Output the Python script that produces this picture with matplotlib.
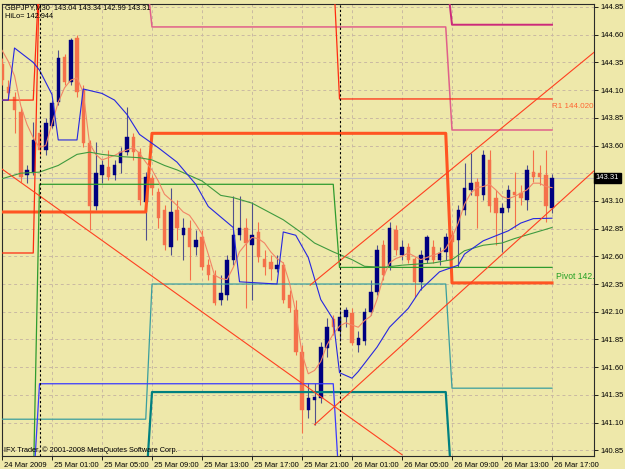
import matplotlib
matplotlib.use("Agg")
import matplotlib.pyplot as plt
import matplotlib.transforms as mtransforms
from matplotlib.patches import Rectangle
import numpy as np

plt.rcParams['font.family'] = ['Liberation Sans', 'DejaVu Sans']

# GBPJPY M30 bars, 24 Mar 2009 21:00 .. 26 Mar 2009 17:00
opens = [144.34, 144.13, 144.04, 143.90, 143.33, 143.36, 143.71, 143.56, 143.78, 143.99,
         144.40, 144.17, 144.57, 144.10, 143.62, 143.05, 143.33, 143.41, 143.33, 143.44,
         143.54, 143.68, 143.54, 143.09, 143.31, 143.18, 143.02, 142.68, 143.02, 142.79,
         142.86, 142.68, 142.77, 142.52, 142.43, 142.21, 142.25, 142.57, 142.79, 142.86,
         142.70, 142.82, 142.58, 142.55, 142.49, 142.52, 142.25, 142.12, 141.74, 141.21,
         141.30, 141.32, 141.77, 142.03, 141.93, 142.05, 142.09, 141.80, 141.84, 142.10,
         142.28, 142.70, 142.50, 142.84, 142.61, 142.68, 142.58, 142.37, 142.57, 142.68,
         142.57, 142.64, 142.79, 142.75, 143.02, 143.20, 143.27, 143.15, 143.47, 143.13,
         142.99, 143.04, 143.18, 143.17, 143.11, 143.36, 143.35, 143.33, 143.04]
highs = [144.39, 144.19, 144.08, 143.95, 143.42, 143.81, 143.76, 143.85, 144.01, 144.46,
         144.43, 144.57, 144.60, 144.15, 143.65, 143.63, 143.47, 143.56, 143.47, 143.59,
         143.95, 143.71, 143.58, 143.36, 143.33, 143.22, 143.06, 143.22, 143.11, 142.95,
         142.93, 142.84, 142.84, 142.58, 142.48, 142.43, 142.61, 143.14, 143.14, 142.95,
         143.09, 142.91, 142.66, 142.61, 142.61, 142.55, 142.30, 142.21, 141.80, 141.46,
         141.46, 141.83, 142.04, 142.07, 142.12, 142.14, 142.13, 141.93, 142.13, 142.39,
         142.70, 142.75, 142.91, 142.88, 142.75, 142.72, 142.59, 142.66, 142.79, 142.75,
         142.68, 142.81, 142.84, 143.06, 143.44, 143.53, 143.31, 143.56, 143.56, 143.20,
         143.08, 143.24, 143.36, 143.24, 143.42, 143.56, 143.42, 143.56, 143.34]
lows = [144.15, 144.01, 143.71, 143.27, 143.26, 143.33, 143.51, 143.51, 143.76, 143.97,
        144.15, 144.15, 144.04, 143.59, 142.84, 143.02, 143.26, 143.29, 143.29, 143.35,
        143.51, 143.47, 143.06, 142.75, 143.15, 142.86, 142.66, 142.61, 142.75, 142.57,
        142.39, 142.61, 142.48, 142.39, 142.16, 142.16, 142.21, 142.52, 142.75, 142.13,
        142.21, 142.55, 142.43, 142.39, 142.46, 142.18, 142.10, 141.71, 141.01, 141.14,
        141.08, 141.28, 141.69, 141.89, 141.84, 141.96, 141.80, 141.74, 141.80, 142.07,
        142.25, 142.39, 142.48, 142.61, 142.57, 142.54, 142.23, 142.30, 142.54, 142.54,
        142.52, 142.57, 142.57, 142.50, 142.97, 143.15, 142.86, 143.11, 143.00, 142.70,
        142.64, 143.00, 142.86, 143.06, 143.02, 143.27, 143.24, 142.91, 142.99]
closes = [144.19, 144.07, 143.92, 143.32, 143.38, 143.65, 143.56, 143.80, 143.98, 144.39,
          144.17, 144.55, 144.08, 143.62, 143.05, 143.35, 143.42, 143.32, 143.42, 143.54,
          143.68, 143.54, 143.11, 143.32, 143.22, 142.95, 142.70, 143.00, 142.86, 142.86,
          142.68, 142.75, 142.50, 142.43, 142.18, 142.27, 142.57, 142.79, 142.86, 142.72,
          142.79, 142.59, 142.50, 142.49, 142.52, 142.21, 142.13, 141.74, 141.21, 141.32,
          141.33, 141.78, 141.96, 141.96, 142.05, 142.12, 141.82, 141.86, 142.10, 142.28,
          142.66, 142.43, 142.86, 142.66, 142.68, 142.57, 142.37, 142.61, 142.77, 142.57,
          142.63, 142.77, 142.73, 143.02, 143.22, 143.26, 143.14, 143.51, 143.05, 142.99,
          143.04, 143.20, 143.15, 143.13, 143.38, 143.32, 143.32, 143.05, 143.31]

# fast moving average (thin salmon), one value per bar
fast_ma = [144.46, 144.36, 144.23, 143.96, 143.79, 143.67, 143.58, 143.60, 143.80, 143.99,
           144.12, 144.19, 144.21, 144.08, 143.62, 143.52, 143.47, 143.49, 143.51, 143.54,
           143.56, 143.58, 143.53, 143.45, 143.38, 143.28, 143.16, 143.11, 143.06, 143.00,
           142.97, 142.89, 142.80, 142.62, 142.43, 142.40, 142.39, 142.50, 142.64, 142.71,
           142.77, 142.76, 142.72, 142.64, 142.58, 142.54, 142.36, 142.10, 141.72, 141.54,
           141.57, 141.65, 141.80, 141.90, 141.97, 142.00, 141.98, 141.96, 142.02, 142.06,
           142.21, 142.41, 142.54, 142.58, 142.60, 142.63, 142.60, 142.57, 142.59, 142.61,
           142.63, 142.67, 142.77, 142.90, 143.07, 143.17, 143.22, 143.23, 143.25, 143.20,
           143.14, 143.12, 143.14, 143.17, 143.20, 143.26, 143.26, 143.23, 143.22]

# slow moving average (green), read at selected bars
slow_bar = [0, 3, 6, 9, 12, 14, 16, 19, 22, 24, 26, 28, 32, 35, 37, 40, 42, 45, 48, 50,
            53, 56, 58, 61, 64, 69, 72, 74, 77, 80, 82, 85, 88]
slow_ma = [143.30, 143.35, 143.36, 143.42, 143.52, 143.54, 143.52, 143.50, 143.49, 143.47,
           143.42, 143.38, 143.28, 143.15, 143.13, 143.08, 143.02, 142.93, 142.81, 142.72,
           142.64, 142.57, 142.51, 142.50, 142.52, 142.54, 142.57, 142.65, 142.70, 142.72,
           142.76, 142.81, 142.86]

# HiLo line (blue)
hilo_bar = [0, 1, 2, 5, 6, 8, 9, 12, 13, 16, 18, 20, 22, 25, 28, 31, 33, 37, 38, 44,
            45, 47, 49, 51, 53, 54, 56, 57, 60, 62, 65, 67, 70, 73, 74, 77, 81, 83, 85, 88]
hilo = [144.01, 144.01, 144.48, 144.35, 144.28, 144.06, 143.65, 143.65, 144.11, 144.07,
        144.01, 143.88, 143.70, 143.58, 143.45, 143.25, 143.05, 142.86, 142.37, 142.35,
        142.82, 142.79, 142.59, 142.21, 142.03, 141.55, 141.50, 141.56, 141.78, 141.96,
        142.13, 142.30, 142.46, 142.52, 142.62, 142.74, 142.83, 142.90, 142.94, 142.944]

# session levels (bar where a level starts, level value)
sess_start = [0, 24, 72]
thick_levels = [143.00, 143.71, 142.36]
teal_levels = [141.13, 142.35, 141.41]
dteal_levels = [140.50, 141.375, 140.50]
pink_levels = [145.20, 144.67, 143.74]
mag_start = [0, 72]
mag_levels = [145.20, 144.69]

# daily pivot levels
day_start = [0, 6, 54]
pivot_levels = [140.50, 143.25, 142.50]
s_levels = [140.50, 141.45, 140.50]
r1_levels = [144.01, 145.20, 144.02]
red2_start = [0, 6]
red2_levels = [142.63, 145.20]

# trend lines ((bar, price), (bar, price))
down_line = ((-0.3, 143.40), (64.0, 140.81))
up_low_line = ((50.0, 141.08), (94.7, 143.37))
up_high_line = ((49.3, 142.34), (94.7, 144.44))

bid = 143.31
separators = [6, 54]
time_ticks = [0, 8, 16, 24, 32, 40, 48, 56, 64, 72, 80, 88]
time_labels = ["24 Mar 2009", "25 Mar 01:00", "25 Mar 05:00", "25 Mar 09:00",
               "25 Mar 13:00", "25 Mar 17:00", "25 Mar 21:00", "26 Mar 01:00",
               "26 Mar 05:00", "26 Mar 09:00", "26 Mar 13:00", "26 Mar 17:00"]
price_ticks = [140.85, 141.10, 141.35, 141.60, 141.85, 142.10, 142.35, 142.60, 142.85,
               143.10, 143.35, 143.60, 143.85, 144.10, 144.35, 144.60, 144.85]

BG = '#eee8aa'
NAVY = '#000080'
ORANGE = '#f5704a'

n = len(closes)
bars = np.arange(n)


def level_series(starts, levels):
    out = np.empty(n)
    for s, v in zip(starts, levels):
        out[s:] = v
    return out


fig = plt.figure(figsize=(6.25, 4.69), dpi=100, facecolor=BG)
ax = fig.add_axes([2 / 625, 13 / 469, 592 / 625, 452 / 469], facecolor=BG)
ax.set_xlim(0, 94.72)
ax.set_ylim(140.798, 144.877)

# grid
for t in time_ticks[1:]:
    ax.axvline(t, color='#c9b9a2', lw=0.7, ls=(0, (3, 3)), zorder=0)
for p in price_ticks:
    ax.axhline(p, color='#c9b9a2', lw=0.7, ls=(0, (3, 3)), zorder=0)

# bid line
ax.axhline(bid, color='#c0c0c0', lw=0.8, zorder=1)

# candles
for i in range(n):
    o, h, l, c = opens[i], highs[i], lows[i], closes[i]
    up = c >= o
    body = NAVY if up else ORANGE
    wick = '#50508c' if up else ORANGE
    ax.vlines(i, l, h, color=wick, lw=0.8, zorder=3)
    lo, hi = min(o, c), max(o, c)
    ax.add_patch(Rectangle((i - 0.28, lo), 0.56, max(hi - lo, 0.01),
                           facecolor=body, edgecolor=body, lw=0.3, zorder=4))

# level lines
ax.plot(bars, level_series(sess_start, thick_levels), color='#ff5522', lw=2.2, zorder=5)
ax.plot(bars, level_series(sess_start, teal_levels), color='#3a9e9e', lw=0.9, zorder=5)
ax.plot(bars, level_series(sess_start, dteal_levels), color='#008080', lw=1.6, zorder=5)
ax.plot(bars, level_series(sess_start, pink_levels), color='#e0608a', lw=1.1, zorder=5)
ax.plot(bars, level_series(mag_start, mag_levels), color='#cc2a7a', lw=1.4, zorder=5)
ax.plot(bars, level_series(day_start, pivot_levels), color='#2e9b2e', lw=0.9, zorder=5)
ax.plot(bars, level_series(day_start, s_levels), color='#3a3aff', lw=0.9, zorder=5)
ax.plot(bars, level_series(day_start, r1_levels), color='#ff2a10', lw=0.9, zorder=5)
ax.plot(bars, level_series(red2_start, red2_levels), color='#ff2a10', lw=0.9, zorder=5)

# indicators
ax.plot(bars, fast_ma, color='#f28466', lw=0.8, zorder=6)
ax.plot(slow_bar, slow_ma, color='#3f9a3f', lw=0.8, zorder=6)
ax.plot(hilo_bar, hilo, color='#2626e0', lw=0.8, zorder=6)

# trend lines
for (x0, y0), (x1, y1) in (down_line, up_low_line, up_high_line):
    ax.plot([x0, x1], [y0, y1], color='#ff4020', lw=0.8, zorder=6)

# period separators
for s in separators:
    ax.axvline(s, color='black', lw=0.8, ls=(0, (2, 2)), zorder=7)

# labels on lines
ax.text(88, 144.02 - 0.04, "R1 144.020", color='#ff6633', fontsize=5.8,
        ha='left', va='top', zorder=8, clip_on=True)
ax.text(88.6, 142.50 - 0.04, "Pivot 142.500", color='#22a022', fontsize=6.2,
        ha='left', va='top', zorder=8, clip_on=True)

# axes styling
for sp in ax.spines.values():
    sp.set_color('#2a2a2a')
    sp.set_linewidth(0.8)

ax.yaxis.tick_right()
ax.set_yticks(price_ticks)
# the 143.35 label sits under the current-price box, as in the terminal
ax.set_yticklabels(["" if abs(p - 143.35) < 1e-6 else f"{p:.2f}" for p in price_ticks])
ax.tick_params(axis='y', direction='out', length=3, width=0.6, pad=2,
               labelsize=5.5, colors='black')
ax.set_xticks(time_ticks)
ax.set_xticklabels(time_labels, ha='left')
ax.tick_params(axis='x', direction='out', length=3, width=0.6, pad=1.5,
               labelsize=5.5, colors='black')
shift = mtransforms.ScaledTranslation(2 / 100, 0, fig.dpi_scale_trans)
for lab in ax.get_xticklabels():
    lab.set_transform(lab.get_transform() + shift)

# current price box
ax.text(1.003, bid, f"{bid:.2f}", transform=ax.get_yaxis_transform(),
        color='white', fontsize=5.5, ha='left', va='center', zorder=9,
        bbox=dict(boxstyle='square,pad=0.2', facecolor='black', edgecolor='black'),
        clip_on=False)

# header and footer text
fig.text(5 / 625, 1 - 8 / 469, "GBPJPY,M30  143.04 143.34 142.99 143.31",
         fontsize=5.3, va='center', ha='left', color='black')
fig.text(5 / 625, 1 - 17 / 469, "HiLo= 142.944", fontsize=5.3, va='center',
         ha='left', color='black')
fig.text(4 / 625, 1 - 450 / 469, "IFX Trader, \u00a9 2001-2008 MetaQuotes Software Corp.",
         fontsize=5.3, va='center', ha='left', color='black')

fig.savefig("out.png", dpi=100, facecolor=BG)
